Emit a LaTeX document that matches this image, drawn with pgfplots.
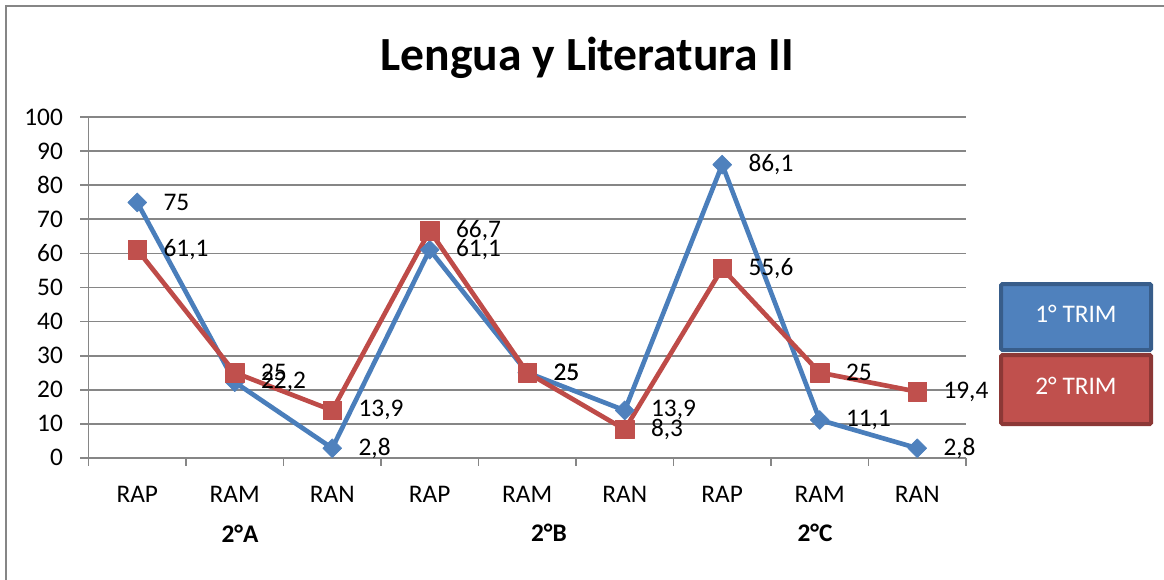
\documentclass[border=0pt]{standalone}
\usepackage{pgfplots}
\pgfplotsset{compat=1.18}
\usepackage{fontspec}
\setmainfont{Carlito}
\definecolor{gridgray}{HTML}{868686}
\definecolor{bline}{HTML}{4A7EBB}
\definecolor{bfill}{HTML}{4F81BD}
\definecolor{bdark}{HTML}{385D8A}
\definecolor{rline}{HTML}{BE4B48}
\definecolor{rfill}{HTML}{C0504D}
\definecolor{rdark}{HTML}{8C3836}
\begin{document}
\begin{tikzpicture}[x=0.75pt,y=-0.75pt]
\useasboundingbox (0,0) rectangle (1164,579);
\draw[gridgray,line width=1.2pt] (5.7,590) -- (5.7,5.7) -- (1175,5.7);
\begin{axis}[
  at={(66.375pt,-343.28pt)}, anchor=south west,
  scale only axis, width=658.1pt, height=255.3pt,
  xmin=-0.5, xmax=8.5, ymin=0, ymax=100,
  axis x line*=bottom, axis y line*=left,
  axis line style={gridgray,line width=1.4pt,-},
  xtick={-0.5,0.5,...,8.5},
  xticklabels={RAP,RAM,RAN,RAP,RAM,RAN,RAP,RAM,RAN,{}},
  xticklabel style={anchor=base,inner sep=0pt,xshift=36.5625pt,yshift=-27.5pt,font=\fontsize{19}{22}\selectfont},
  ytick={0,10,...,100},
  yticklabel style={anchor=east,inner sep=0pt,xshift=-13pt,font=\fontsize{19}{22}\selectfont},
  /pgf/number format/assume math mode=true,
  tick align=outside, major tick length=6pt,
  tick style={gridgray,line width=1.4pt},
  ymajorgrids, major grid style={gridgray,line width=1.4pt},
  clip=false,
  nodes near coords, point meta=explicit symbolic,
  every node near coord/.append style={anchor=west,inner sep=0pt,xshift=19.5pt,font=\fontsize{19}{22}\selectfont,text=black},
]
\addplot[bline,line width=3.5pt,line join=round,mark=square*,mark size=5pt,
  mark options={rotate=45,fill=bfill,draw=bfill,line width=0.5pt}]
  coordinates {(0,75)[75] (1,22.2)[22,2] (2,2.8)[2,8] (3,61.1)[61,1] (4,25)[25]
   (5,13.9)[13,9] (6,86.1)[86,1] (7,11.1)[11,1] (8,2.8)[2,8]};
\addplot[rline,line width=3.5pt,line join=round,mark=square*,mark size=7pt,
  mark options={fill=rfill,draw=rfill,line width=0.5pt}]
  coordinates {(0,61.1)[61,1] (1,25)[25] (2,13.9)[13,9] (3,66.7)[66,7] (4,25)[25]
   (5,8.3)[8,3] (6,55.6)[55,6] (7,25)[25] (8,19.4)[19,4]};
\end{axis}
\node[anchor=base,inner sep=0pt,font=\fontsize{35.7}{40}\selectfont\bfseries] at (587.5,70) {Lengua y Literatura II};
\node[inner sep=0pt,font=\fontsize{19}{22}\selectfont\bfseries] at (240,534) {2°A};
\node[inner sep=0pt,font=\fontsize{19}{22}\selectfont\bfseries] at (549,533) {2°B};
\node[inner sep=0pt,font=\fontsize{19}{22}\selectfont\bfseries] at (815,533) {2°C};
\draw[bdark,fill=bfill,line width=3pt,rounded corners=1pt] (1001,284) rectangle (1151,350);
\node[white,font=\fontsize{19}{22}\selectfont] at (1076,314) {1° TRIM};
\draw[rdark,fill=rfill,line width=3pt,rounded corners=1pt] (1001,355) rectangle (1151,424);
\node[white,font=\fontsize{19}{22}\selectfont] at (1076,386) {2° TRIM};
\end{tikzpicture}
\end{document}
